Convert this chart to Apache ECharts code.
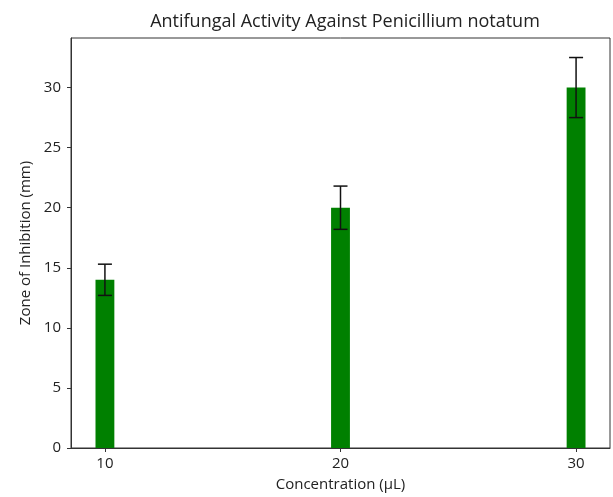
<!DOCTYPE html>
<html><head><meta charset="utf-8">
<script src="https://cdn.jsdelivr.net/npm/echarts@6/dist/echarts.min.js"></script>
<style>html,body{margin:0;padding:0;background:#fff}#c{width:613px;height:497px}</style>
</head><body><div id="c"></div>
<script>
const categories = [10, 20, 30];
const values = [14, 20, 30];
const errors = [1.3, 1.8, 2.5];
const yTicks = [0, 5, 10, 15, 20, 25, 30];

const FONT = 'Open Sans';
const TXT = '#222';
const chart = echarts.init(document.getElementById('c'), null, {renderer: 'canvas'});
const barData = categories.map((c, i) => [c, values[i], errors[i]]);

chart.setOption({
  animation: false,
  backgroundColor: '#fff',
  title: {
    text: 'Antifungal Activity Against Penicillium notatum',
    left: 340, top: 8, textAlign: 'center',
    textStyle: {fontFamily: FONT, fontSize: 18, fontWeight: 'normal', color: TXT}
  },
  grid: {left: 71, right: 3, top: 38, bottom: 45, show: true, borderColor: '#333', borderWidth: 1, backgroundColor: 'transparent'},
  xAxis: {
    type: 'value', min: 8.56, max: 31.44,
    name: 'Concentration (µL)', nameLocation: 'middle', nameGap: 29,
    nameTextStyle: {fontFamily: FONT, fontSize: 15, color: TXT},
    axisLine: {show: true, lineStyle: {color: '#333', width: 1}},
    axisTick: {show: true, length: 4, lineStyle: {color: '#333'}, customValues: categories},
    axisLabel: {fontFamily: FONT, fontSize: 15, color: TXT, margin: 8, customValues: categories},
    splitLine: {show: false}
  },
  yAxis: {
    type: 'value', min: 0, max: 34.125, interval: 5,
    name: 'Zone of Inhibition (mm)', nameLocation: 'middle', nameGap: 32,
    nameTextStyle: {fontFamily: FONT, fontSize: 15, color: TXT},
    axisLine: {show: true, lineStyle: {color: '#333', width: 1}},
    axisTick: {show: true, length: 4, lineStyle: {color: '#333'}, customValues: yTicks},
    axisLabel: {fontFamily: FONT, fontSize: 15, color: TXT, margin: 10, customValues: yTicks},
    splitLine: {show: false}
  },
  series: [{
    type: 'custom',
    data: barData,
    clip: false,
    renderItem: function (params, api) {
      const x = api.value(0), y = api.value(1), e = api.value(2);
      const w = 0.8;
      const p0 = api.coord([x - w / 2, y]);
      const p1 = api.coord([x + w / 2, 0]);
      const top = api.coord([x, y + e]);
      const bot = api.coord([x, y - e]);
      const cap = 7;
      return {
        type: 'group',
        children: [
          {type: 'rect', shape: {x: p0[0], y: p0[1], width: p1[0] - p0[0], height: p1[1] - p0[1]}, style: {fill: '#008000'}},
          {type: 'line', shape: {x1: top[0], y1: top[1], x2: bot[0], y2: bot[1]}, style: {stroke: '#111', lineWidth: 1.5}},
          {type: 'line', shape: {x1: top[0] - cap, y1: top[1], x2: top[0] + cap, y2: top[1]}, style: {stroke: '#111', lineWidth: 1.5}},
          {type: 'line', shape: {x1: bot[0] - cap, y1: bot[1], x2: bot[0] + cap, y2: bot[1]}, style: {stroke: '#111', lineWidth: 1.5}}
        ]
      };
    }
  }]
});
</script></body></html>
